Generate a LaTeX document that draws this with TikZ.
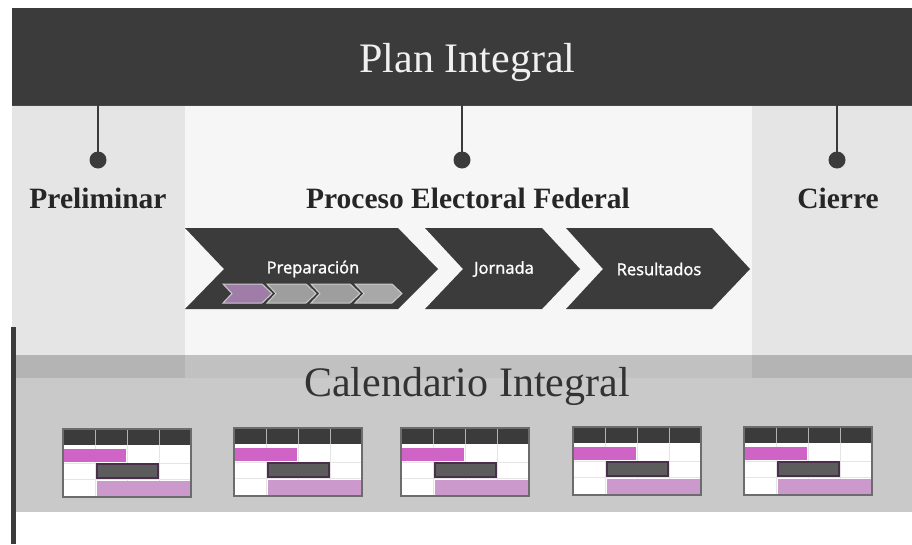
\documentclass[tikz,border=0pt]{standalone}
\usepackage{fontspec}
\setmainfont{Liberation Serif}
\newfontfamily\chevfont{Open Sans}[FakeBold=1.6]
\definecolor{banddark}{HTML}{3B3B3B}
\definecolor{colgray}{HTML}{E5E5E5}
\definecolor{midgray}{HTML}{F6F6F6}
\definecolor{calband}{HTML}{C9C9C9}
\definecolor{stripmid}{HTML}{C1C1C1}
\definecolor{stripcol}{HTML}{B4B4B4}
\definecolor{pinkbar}{HTML}{CF63C6}
\definecolor{lilacbar}{HTML}{CC99CC}
\definecolor{darkbar}{HTML}{5C5C5C}
\definecolor{darkbarline}{HTML}{4A2F4A}
\definecolor{minipurple}{HTML}{9F7DA8}
\definecolor{minigray}{HTML}{9E9E9E}
\definecolor{minilight}{HTML}{A8A8A8}
\definecolor{edgepurple}{HTML}{5E3A5E}
\tikzset{
  titletext/.style={font=\fontsize{42}{50}\selectfont, anchor=base, inner sep=0pt},
  phasetext/.style={font=\bfseries\fontsize{29.5}{34}\selectfont, text=black!85, anchor=base, inner sep=0pt},
  chevtext/.style={font=\chevfont\fontsize{16.5}{19}\selectfont, text=white, inner sep=0pt},
  chevshape/.style={fill=banddark, draw=none},
  minichev/.style={draw=white!80!black, line width=1pt},
  stem/.style={draw=banddark, line width=2pt},
  knob/.style={circle, fill=banddark, minimum size=17pt, inner sep=0pt},
  calframe/.style={draw=gray!85!black, line width=1.3pt},
  gridline/.style={draw=black!10, line width=0.6pt},
}
\newcommand{\calicon}[2]{%
  % #1 = left x, #2 = top y ; icon 128 x 68
  \begin{scope}[shift={(#1,#2)}]
    \fill[white] (0,0) rectangle (128,68);
    \draw[gridline] (0,34) -- (128,34) (0,50) -- (128,50)
      (32,16) -- (32,68) (64,16) -- (64,68) (96,16) -- (96,68);
    \fill[banddark] (0,0) rectangle (128,16);
    \draw[white!70!black, line width=1pt] (32,0) -- (32,16) (64,0) -- (64,16) (96,0) -- (96,16);
    \fill[pinkbar] (0,20) rectangle (63,33);
    \filldraw[fill=darkbar, draw=darkbarline, line width=1.2pt] (34,35) rectangle (95,49);
    \fill[lilacbar] (34,52) rectangle (128,68);
    \draw[calframe] (0,0) rectangle (128,68);
  \end{scope}}
\begin{document}
\begin{tikzpicture}[x=1pt,y=-1pt]
  \useasboundingbox (0,0) rectangle (912,544);
  \fill[white] (0,0) rectangle (912,544);
  % light panels
  \fill[midgray] (185,105) rectangle (752,355);
  \fill[calband] (15,355) rectangle (912,512);
  \fill[stripmid] (185,355) rectangle (752,378);
  \fill[colgray] (12,105) rectangle (185,355);
  \fill[stripcol] (15,355) rectangle (185,378);
  \fill[colgray] (752,105) rectangle (912,355);
  \fill[stripcol] (752,355) rectangle (912,378);
  % left vertical bar
  \fill[banddark] (11,327) rectangle (16,544);
  % top band
  \fill[banddark] (12,8) rectangle (912,105);
  \draw[edgepurple, line width=0.8pt] (12,105) -- (912,105);
  \node[titletext, text=white!94!black] (plan) at (467.5,72) {Plan Integral};
  % stems and knobs
  \coordinate (s1) at (98,105);
  \coordinate (s2) at (462,105);
  \coordinate (s3) at (837,105);
  \node[knob] (k1) at (98,160) {};
  \node[knob] (k2) at (462,160) {};
  \node[knob] (k3) at (837,160) {};
  \draw[stem] (s1) -- (k1.center);
  \draw[stem] (s2) -- (k2.center);
  \draw[stem] (s3) -- (k3.center);
  % phase labels
  \node[phasetext] (prelim) at (98,208) {Preliminar};
  \node[phasetext] (proceso) at (468,208) {Proceso Electoral Federal};
  \node[phasetext] (cierre) at (838,208) {Cierre};
  % chevrons
  \path[chevshape] (185,228) -- (398,228) -- (438,269) -- (398,309) -- (185,309) -- (224,269) -- cycle;
  \path[chevshape] (425,228) -- (542,228) -- (580,269) -- (542,309) -- (425,309) -- (463,269) -- cycle;
  \path[chevshape] (566,228) -- (712,228) -- (750,269) -- (712,309) -- (566,309) -- (603,269) -- cycle;
  \node[chevtext] (prep) at (313,269) {Preparación};
  \node[chevtext] (jorn) at (504,269) {Jornada};
  \node[chevtext] (resu) at (659,269) {Resultados};
  % mini chevrons
  \filldraw[minichev, fill=minipurple] (223,284) -- (262,284) -- (272,293.5) -- (262,303) -- (223,303) -- (232,293.5) -- cycle;
  \filldraw[minichev, fill=minigray] (267,284) -- (306,284) -- (316,293.5) -- (306,303) -- (267,303) -- (276,293.5) -- cycle;
  \filldraw[minichev, fill=minigray] (311,284) -- (350,284) -- (360,293.5) -- (350,303) -- (311,303) -- (320,293.5) -- cycle;
  \filldraw[minichev, fill=minilight] (355,284) -- (392,284) -- (402,293.5) -- (392,303) -- (355,303) -- (364,293.5) -- cycle;
  % calendar title
  \node[titletext, text=black!80] (cal) at (467,396) {Calendario Integral};
  % calendar icons
  \calicon{63}{429}
  \calicon{234}{428}
  \calicon{401}{428}
  \calicon{573}{427}
  \calicon{744}{427}
\end{tikzpicture}
\end{document}
